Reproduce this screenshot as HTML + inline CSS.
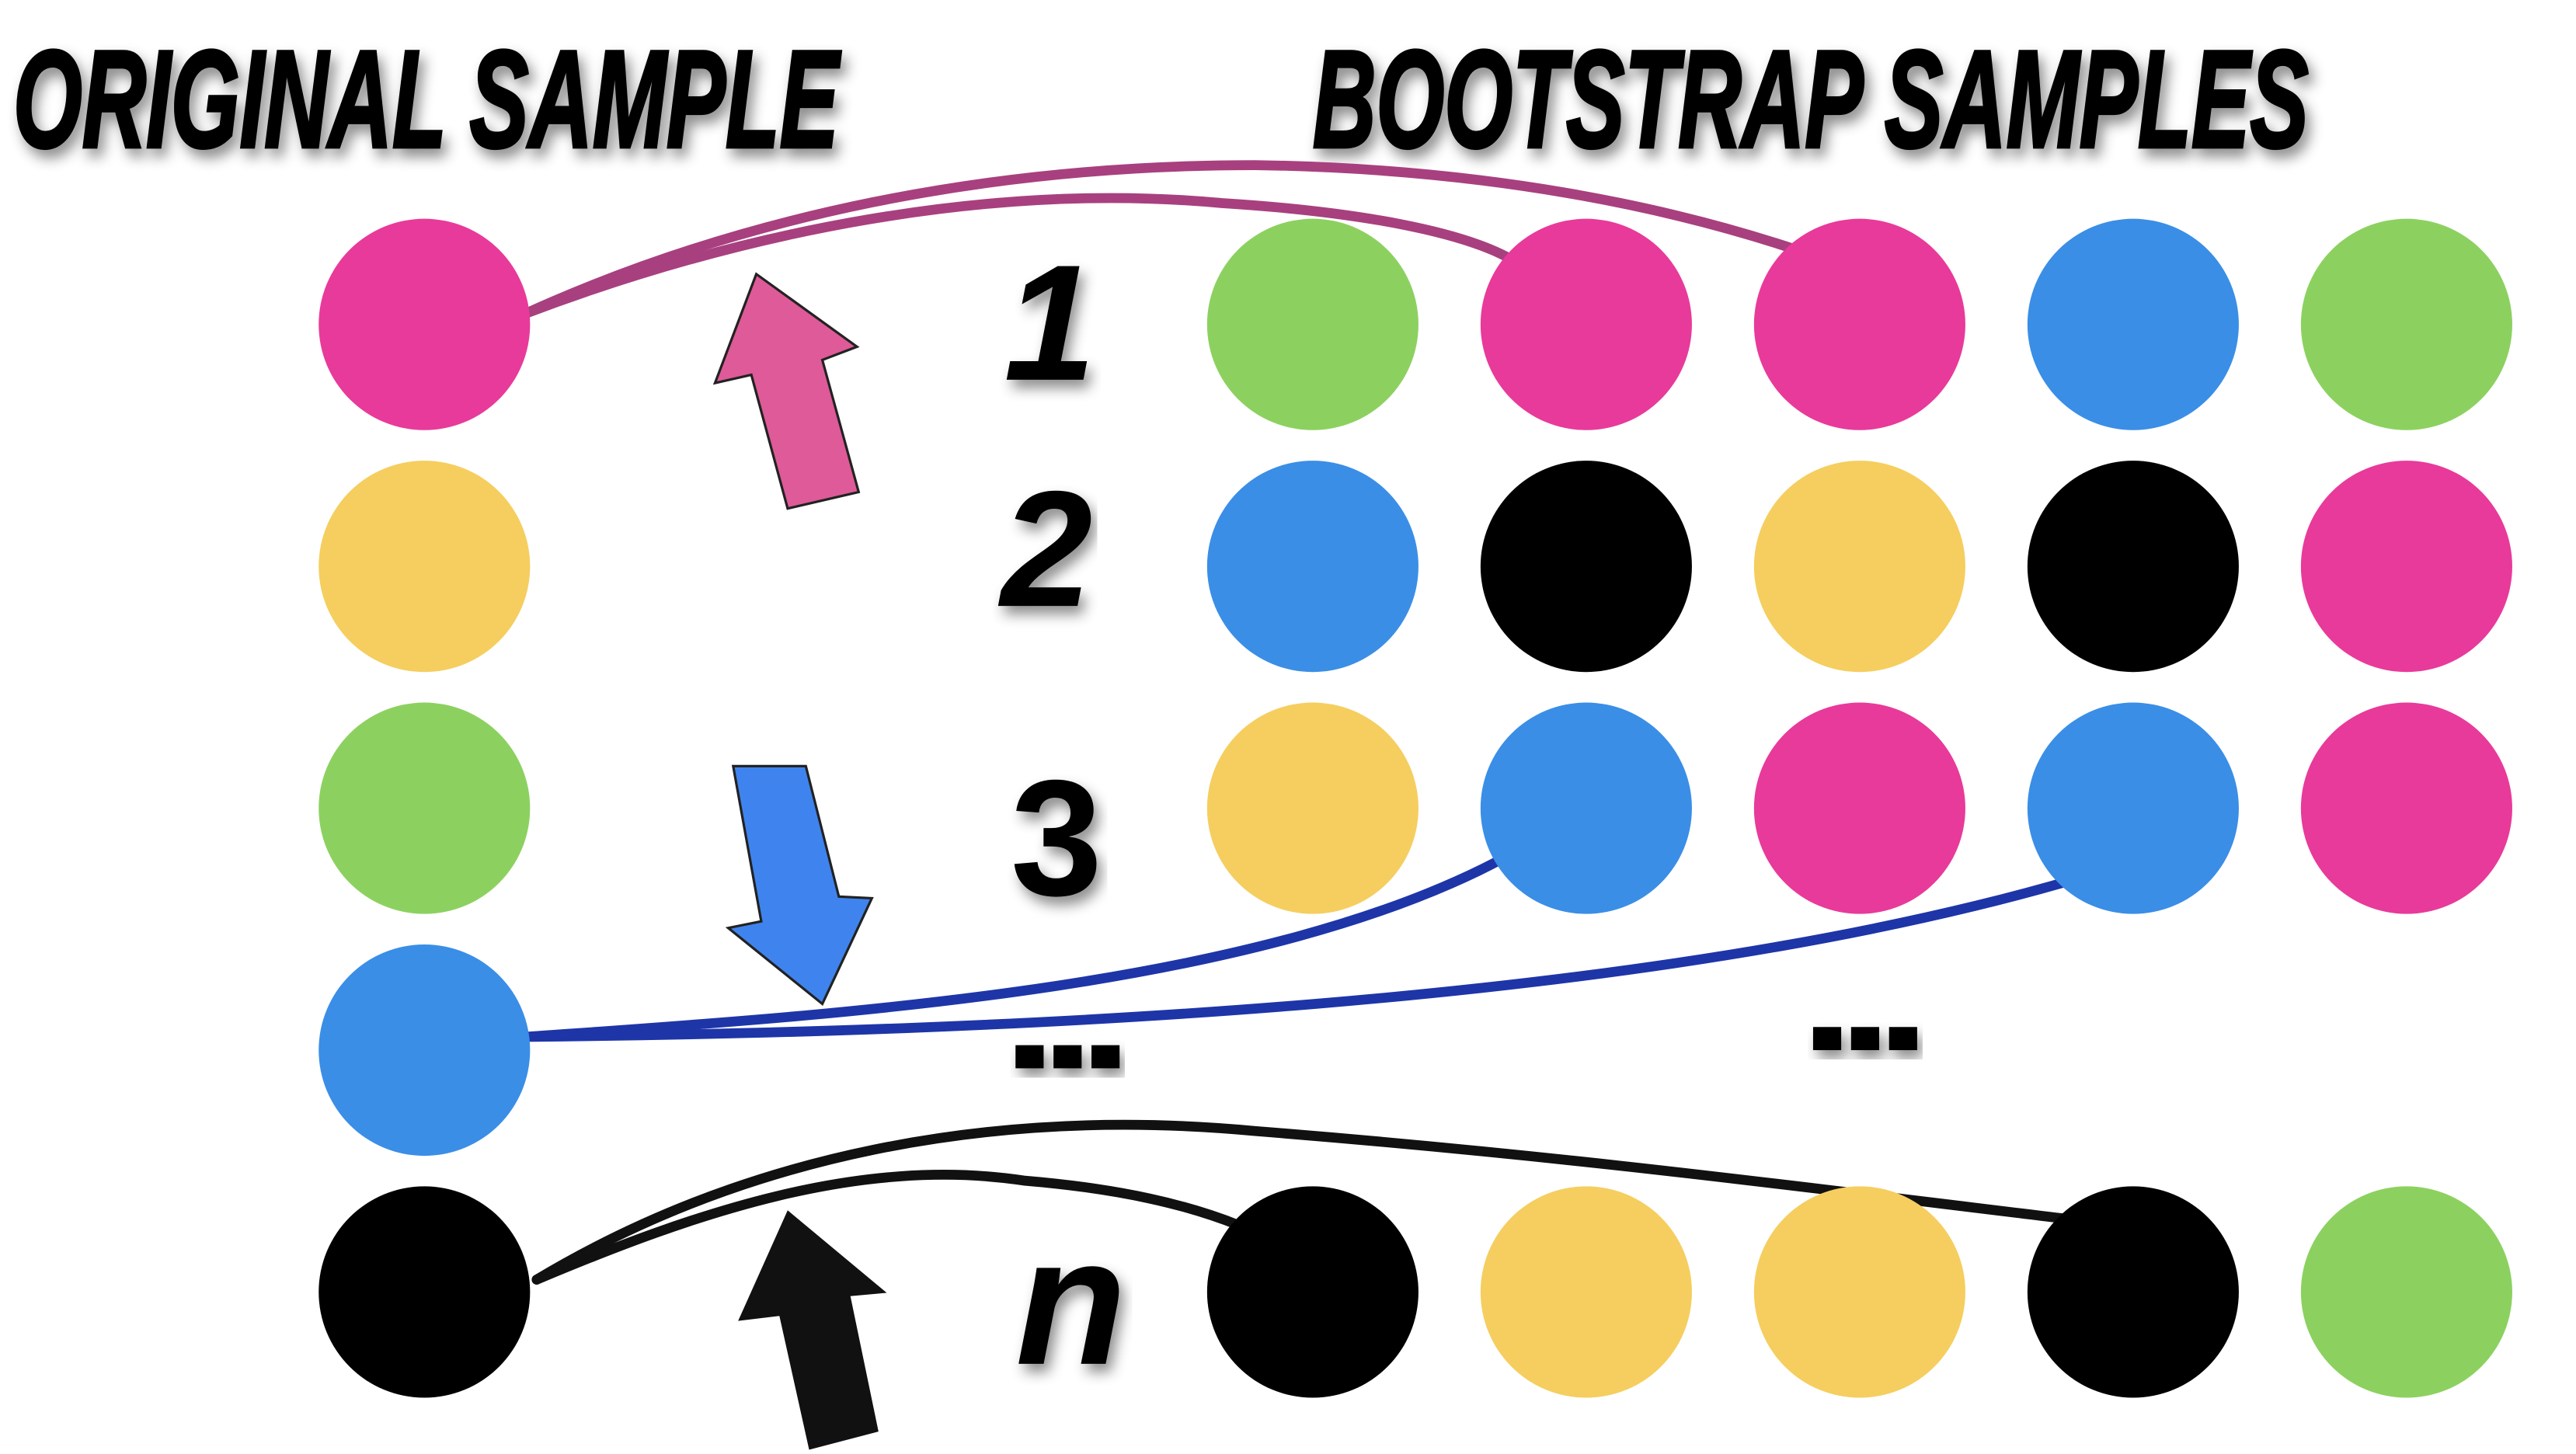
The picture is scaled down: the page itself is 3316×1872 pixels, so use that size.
<!DOCTYPE html>
<html><head><meta charset="utf-8"><style>
html,body{margin:0;padding:0;background:#fff;}
svg{display:block;}
text{font-family:"Liberation Sans",sans-serif;font-weight:bold;}
</style></head><body>
<svg id="fig" width="3316" height="1872" viewBox="0 0 1560 880.6" preserveAspectRatio="none" xmlns="http://www.w3.org/2000/svg">
<defs>
<filter id="sh" x="-5%" y="-20%" width="110%" height="160%"><feDropShadow dx="3" dy="5" stdDeviation="4" flood-color="#000" flood-opacity="0.45"/></filter>
</defs>
<rect width="1560" height="881" fill="#fff"/>
<text x="8" y="89" font-size="84" font-style="italic" textLength="500" lengthAdjust="spacingAndGlyphs" stroke="#000" stroke-width="2" filter="url(#sh)">ORIGINAL SAMPLE</text>
<text x="795" y="89" font-size="84" font-style="italic" textLength="603" lengthAdjust="spacingAndGlyphs" stroke="#000" stroke-width="2" filter="url(#sh)">BOOTSTRAP SAMPLES</text>
<g id="lines" fill="none" stroke-linecap="round">
<path d="M318 190 C450 140 600 110 740 123 C820 128 890 140 920 160" stroke="#A8407F" stroke-width="6"/>
<path d="M318 190 C450 130 600 100 760 100 C900 102 1010 125 1090 152" stroke="#A8407F" stroke-width="6"/>
<path d="M318 628 C500 615 760 600 910 520" stroke="#1E35A8" stroke-width="6"/>
<path d="M318 628 C600 625 1000 610 1265 530" stroke="#1E35A8" stroke-width="6"/>
<path d="M325 775 C420 735 520 700 620 715 C680 720 720 730 750 742" stroke="#111" stroke-width="6"/>
<path d="M325 775 C450 700 600 670 760 685 C950 700 1100 720 1250 738" stroke="#111" stroke-width="6"/>
</g>
<g id="circles"></g>
<polygon points="433,232 458,166 519,210 498,218 520,298 477,308 455,227" fill="#DE5A98" stroke="#222" stroke-width="1.5"/>
<polygon points="444,464 488,464 508,543 528,544 498,608 441,562 461,558" fill="#3F84EE" stroke="#222" stroke-width="1.5"/>
<polygon points="447,800 477,733 537,783 515,785 532,867 490,878 472,797" fill="#111"/>
<g id="labels" font-style="italic">
<text x="608" y="230" font-size="100" filter="url(#sh)">1</text>
<text x="606" y="367" font-size="100" filter="url(#sh)">2</text>
<text x="612" y="542" font-size="100" font-style="normal" filter="url(#sh)">3</text>
<text x="615" y="826" font-size="110" filter="url(#sh)">n</text>
</g>
<g fill="#000" filter="url(#sh)">
<rect x="615" y="633" width="17" height="14"/><rect x="638" y="633" width="17" height="14"/><rect x="661" y="633" width="17" height="14"/>
</g>
<g fill="#000" filter="url(#sh)">
<rect x="1098" y="622" width="17" height="14"/><rect x="1121" y="622" width="17" height="14"/><rect x="1144" y="622" width="17" height="14"/>
</g>
</svg>
<script>
const colorMap = {P:"#E83A9A", Y:"#F5CE5F", G:"#8CD160", B:"#3A8EE6", K:"#000000"};
const originalSample = ["P","Y","G","B","K"];
const bootstrapRow1 = ["G","P","P","B","G"];
const bootstrapRow2 = ["B","K","Y","K","P"];
const bootstrapRow3 = ["Y","B","P","B","P"];
const bootstrapRowN = ["K","Y","Y","K","G"];
const bootstrapRows = [[0,bootstrapRow1],[1,bootstrapRow2],[2,bootstrapRow3],[4,bootstrapRowN]];
const NS="http://www.w3.org/2000/svg";
const g=document.getElementById('circles');
const rowY=i=>196.5+i*146.5;
const colX=j=>795+j*165.6;
function circ(cx,cy,c){
  const e=document.createElementNS(NS,'circle');
  e.setAttribute('cx',cx);e.setAttribute('cy',cy);e.setAttribute('r',64);e.setAttribute('fill',colorMap[c]);
  return e;
}
originalSample.forEach((c,i)=>{
  const e=circ(257,rowY(i),c);
  
  
  g.appendChild(e);
});
bootstrapRows.forEach(([r,row])=>{
  row.forEach((c,j)=>{
    const e=circ(colX(j),rowY(r),c);
    
    
    g.appendChild(e);
  });
});
</script>
</body></html>
